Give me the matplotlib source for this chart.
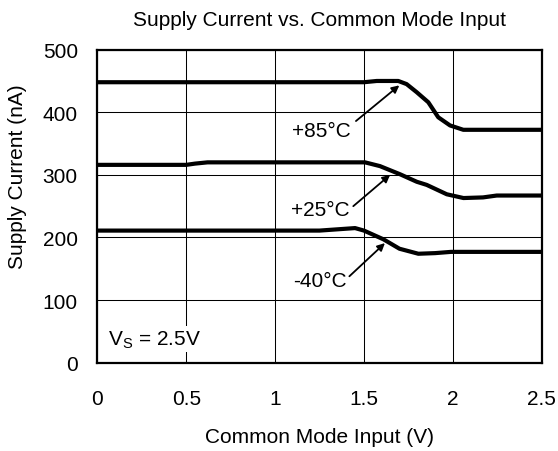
import matplotlib
matplotlib.use("Agg")
import matplotlib.pyplot as plt

plt.rcParams['font.family'] = ['Liberation Sans', 'DejaVu Sans']
plt.rcParams['mathtext.fontset'] = 'custom'
plt.rcParams['mathtext.rm'] = 'Liberation Sans'
plt.rcParams['mathtext.it'] = 'Liberation Sans:italic'

# curves
x85 = [0, 0.5, 1.0, 1.5, 1.572, 1.693, 1.74, 1.797, 1.862, 1.918, 1.984, 2.059, 2.5]
y85 = [448, 448, 448, 448, 450, 450, 445, 432, 416, 392, 379, 372, 372]
x25 = [0, 0.5, 0.55, 0.62, 1.0, 1.506, 1.59, 1.703, 1.797, 1.853, 1.966, 2.06, 2.17, 2.247, 2.5]
y25 = [316, 316, 318, 320, 320, 320, 314, 301, 289, 284, 269, 263, 264, 267, 267]
xm40 = [0, 0.5, 1.0, 1.25, 1.45, 1.50, 1.61, 1.70, 1.806, 1.90, 1.99, 2.5]
ym40 = [211, 211, 211, 211, 215, 211, 197, 182, 174, 175, 177, 177]

labels = ['+85°C', '+25°C', '-40°C']
label_pos = [(1.425, 371), (1.42, 245), (1.403, 131)]
arrow_tail = [(1.455, 386), (1.44, 250), (1.418, 138)]
arrow_tip = [(1.699, 443), (1.647, 300), (1.618, 191)]

xticks = [0, 0.5, 1, 1.5, 2, 2.5]
xticklabels = ['0', '0.5', '1', '1.5', '2', '2.5']
yticks = [0, 100, 200, 300, 400, 500]

fs = 15

fig = plt.figure(figsize=(5.58, 4.52), dpi=100)
ax = fig.add_axes([0.1744, 0.1954, 0.7964, 0.6925])

for xs, ys in [(x85, y85), (x25, y25), (xm40, ym40)]:
    ax.plot(xs, ys, color='black', lw=3, solid_joinstyle='round', solid_capstyle='butt', zorder=3)

for lab, (tx, ty), tail, tip in zip(labels, label_pos, arrow_tail, arrow_tip):
    ax.text(tx, ty, lab, ha='right', va='center', fontsize=fs, zorder=4)
    ax.annotate('', xy=tip, xytext=tail,
                arrowprops=dict(arrowstyle='-|>', color='black', lw=1.3,
                                mutation_scale=11, shrinkA=0, shrinkB=0), zorder=4)

ax.text(0.06, 38, r'V$_{\mathrm{S}}$ = 2.5V', ha='left', va='center', fontsize=fs,
        bbox=dict(facecolor='white', edgecolor='none', pad=2), zorder=4)

ax.set_xlim(0, 2.5)
ax.set_ylim(0, 500)
ax.set_xticks(xticks)
ax.set_xticklabels(xticklabels)
ax.set_yticks(yticks)
ax.grid(True, color='black', lw=0.75, zorder=0)
ax.set_axisbelow(True)
ax.tick_params(axis='both', length=0, labelsize=fs)
ax.tick_params(axis='x', pad=19)
ax.tick_params(axis='y', pad=14)
for sp in ax.spines.values():
    sp.set_linewidth(1.6)

fig.text(0.5726, 0.9425, 'Supply Current vs. Common Mode Input', ha='center', va='baseline', fontsize=fs)
fig.text(0.5726, 0.0199, 'Common Mode Input (V)', ha='center', va='baseline', fontsize=fs)
fig.text(0.0305, 0.609, 'Supply Current (nA)', rotation=90, ha='center', va='center', fontsize=fs)

fig.savefig('out.png', dpi=100)
